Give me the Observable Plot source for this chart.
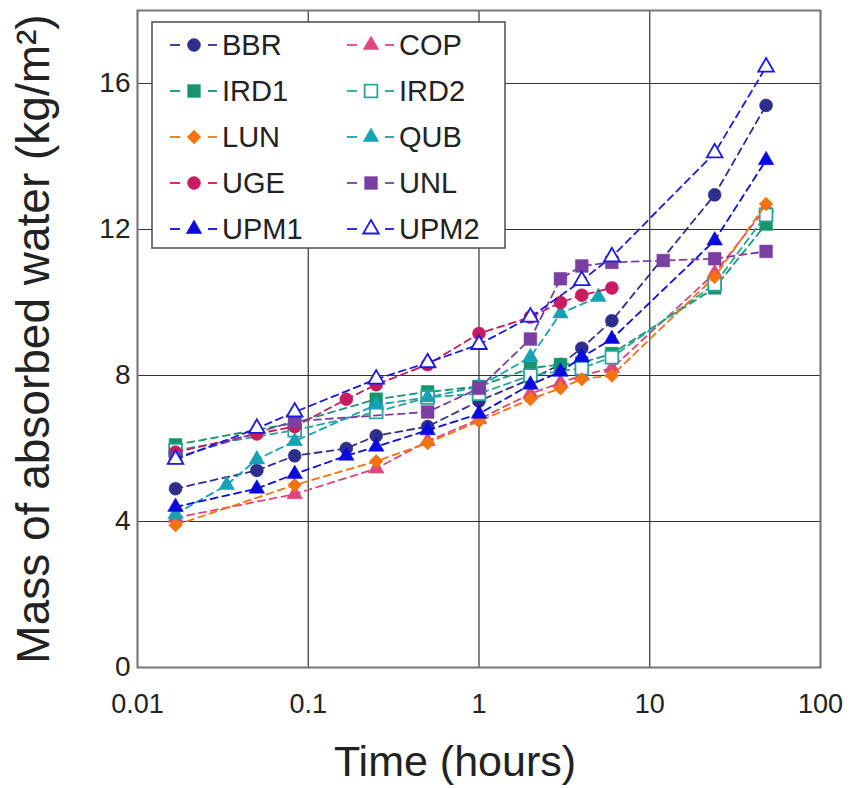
<!DOCTYPE html>
<html>
<head>
<meta charset="utf-8">
<script src="https://cdn.jsdelivr.net/npm/d3@7"></script>
<script src="https://cdn.jsdelivr.net/npm/@observablehq/plot@0.6"></script>
<style>
  body { margin: 0; background: #fff; }
  #wrap { position: relative; width: 850px; height: 788px; font-family: "Liberation Sans", Arial, sans-serif; }
  #legend { position: absolute; left: 0; top: 0; }
</style>
</head>
<body>
<div id="wrap"></div>
<script>
// ---- data (time in hours, mass in kg/m²) ----
const seriesNames = ["BBR", "COP", "IRD1", "IRD2", "LUN", "QUB", "UGE", "UNL", "UPM1", "UPM2"];
const seriesColors = ["#2E2E8C", "#E0457B", "#16956B", "#2AA39A", "#F5730F", "#17A2B4", "#C81A5E", "#7B3FA1", "#0A0AE0", "#1A1AE6"];
const seriesSymbols = ["circle", "triangle", "square", "square", "diamond2", "triangle", "circle", "square", "triangle", "triangle"];
const seriesOpen = [false, false, false, true, false, false, false, false, false, true];

const tBBR = [0.0167, 0.05, 0.0833, 0.167, 0.25, 0.5, 1, 2, 3, 4, 6, 24, 48];
const mBBR = [4.9, 5.4, 5.8, 6.0, 6.35, 6.6, 7.3, 7.9, 8.3, 8.75, 9.5, 12.95, 15.4];
const tCOP = [0.0167, 0.0833, 0.25, 0.5, 1, 2, 3, 4, 6, 24, 48];
const mCOP = [4.1, 4.75, 5.45, 6.2, 6.8, 7.5, 7.8, 8.0, 8.2, 10.8, 12.6];
const tIRD1 = [0.0167, 0.0833, 0.25, 0.5, 1, 2, 3, 4, 6, 24, 48];
const mIRD1 = [6.1, 6.7, 7.35, 7.55, 7.7, 8.2, 8.3, 8.35, 8.6, 10.4, 12.15];
const tIRD2 = [0.0167, 0.0833, 0.25, 0.5, 1, 2, 4, 6, 24, 48];
const mIRD2 = [5.95, 6.5, 7.0, 7.4, 7.5, 8.0, 8.2, 8.5, 10.5, 12.4];
const tLUN = [0.0167, 0.0833, 0.25, 0.5, 1, 2, 3, 4, 6, 24, 48];
const mLUN = [3.9, 5.0, 5.65, 6.15, 6.75, 7.35, 7.65, 7.9, 8.0, 10.7, 12.7];
const tQUB = [0.0167, 0.0333, 0.05, 0.0833, 0.25, 0.5, 1, 2, 3, 5];
const mQUB = [4.2, 5.0, 5.7, 6.2, 7.2, 7.4, 7.7, 8.5, 9.7, 10.15];
const tUGE = [0.0167, 0.05, 0.0833, 0.167, 0.25, 0.5, 1, 2, 3, 4, 6];
const mUGE = [5.9, 6.4, 6.6, 7.35, 7.75, 8.3, 9.15, 9.6, 10.0, 10.2, 10.4];
const tUNL = [0.0167, 0.0833, 0.5, 1, 2, 3, 4, 6, 12, 24, 48];
const mUNL = [5.75, 6.75, 7.0, 7.65, 9.0, 10.65, 11.0, 11.1, 11.15, 11.2, 11.4];
const tUPM1 = [0.0167, 0.05, 0.0833, 0.167, 0.25, 0.5, 1, 2, 3, 4, 6, 24, 48];
const mUPM1 = [4.4, 4.9, 5.3, 5.8, 6.05, 6.5, 6.95, 7.75, 8.1, 8.5, 9.0, 11.7, 13.9];
const tUPM2 = [0.0167, 0.05, 0.0833, 0.25, 0.5, 1, 2, 4, 6, 24, 48];
const mUPM2 = [5.7, 6.55, 7.0, 7.9, 8.35, 8.85, 9.6, 10.6, 11.25, 14.1, 16.45];

const seriesTimes = [tBBR, tCOP, tIRD1, tIRD2, tLUN, tQUB, tUGE, tUNL, tUPM1, tUPM2];
const seriesMass = [mBBR, mCOP, mIRD1, mIRD2, mLUN, mQUB, mUGE, mUNL, mUPM1, mUPM2];

const xTicks = [0.01, 0.1, 1, 10, 100];
const xTickLabels = ["0.01", "0.1", "1", "10", "100"];
const yTicks = [0, 4, 8, 12, 16];
const xTitle = "Time (hours)";
const yTitle = "Mass of absorbed water (kg/m²)";

const FONT = '"Liberation Sans", Arial, sans-serif';
// marker radii by symbol
const symR = {circle: 6.5, square: 7.2, triangle: 5.8, diamond2: 6.2};

const marks = [
  Plot.gridX(xTicks, {stroke: "#111", strokeOpacity: 0.85, strokeWidth: 1.2}),
  Plot.gridY(yTicks, {stroke: "#111", strokeOpacity: 0.85, strokeWidth: 1.2}),
  Plot.frame({stroke: "#777", strokeWidth: 2})
];

seriesNames.forEach((name, i) => {
  const data = seriesTimes[i].map((t, j) => ({t, m: seriesMass[i][j]}));
  marks.push(Plot.line(data, {x: "t", y: "m", stroke: seriesColors[i], strokeWidth: 1.8, strokeDasharray: "7,5"}));
  marks.push(Plot.dot(data, {
    x: "t", y: "m",
    symbol: seriesSymbols[i],
    r: symR[seriesSymbols[i]],
    fill: seriesOpen[i] ? "white" : seriesColors[i],
    stroke: seriesColors[i],
    strokeWidth: seriesOpen[i] ? 1.8 : 0.5
  }));
});

marks.push(
  Plot.axisX(xTicks, {tickSize: 0, tickPadding: 26, fontSize: 27, tickFormat: d => xTickLabels[xTicks.indexOf(d)], label: null, fill: "#222"}),
  Plot.axisY(yTicks, {tickSize: 0, tickPadding: 7, fontSize: 28, label: null, fill: "#222"}),
  Plot.text([xTitle], {text: d => d, frameAnchor: "bottom", dx: -24, dy: 108, lineAnchor: "bottom", fontSize: 43, fill: "#222"}),
  Plot.axisY([], {label: yTitle, labelArrow: "none", labelAnchor: "center", labelOffset: 121, fontSize: 46, fill: "#222", tickSize: 0})
);

const chart = Plot.plot({
  width: 850,
  height: 788,
  marginLeft: 137,
  marginRight: 30,
  marginTop: 10,
  marginBottom: 121,
  style: {fontFamily: FONT, background: "white", color: "#222"},
  x: {type: "log", domain: [0.01, 100]},
  y: {domain: [0, 18]},
  marks
});
document.getElementById("wrap").appendChild(chart);

// ---- legend overlay ----
const lg = d3.select("#wrap").append("svg").attr("id", "legend").attr("width", 850).attr("height", 300);
lg.append("rect").attr("x", 152).attr("y", 22).attr("width", 353).attr("height", 226)
  .attr("fill", "white").attr("stroke", "#555").attr("stroke-width", 1.6);
const symMap = {circle: d3.symbolCircle, square: d3.symbolSquare, triangle: d3.symbolTriangle, diamond2: d3.symbolDiamond2};
seriesNames.forEach((name, i) => {
  const col = i % 2, row = Math.floor(i / 2);
  const cx = col === 0 ? 194 : 371;
  const cy = 45 + row * 46;
  const g = lg.append("g");
  [[-24, -14], [14, 23]].forEach(([a, b]) => {
    g.append("line").attr("x1", cx + a).attr("x2", cx + b).attr("y1", cy).attr("y2", cy)
      .attr("stroke", seriesColors[i]).attr("stroke-width", 1.8);
  });
  const r = symR[seriesSymbols[i]];
  g.append("path").attr("transform", `translate(${cx},${cy})`)
    .attr("d", d3.symbol(symMap[seriesSymbols[i]], r * r * Math.PI)())
    .attr("fill", seriesOpen[i] ? "white" : seriesColors[i])
    .attr("stroke", seriesColors[i]).attr("stroke-width", seriesOpen[i] ? 1.8 : 0.5);
  g.append("text").attr("x", cx + 28).attr("y", cy).attr("dy", "0.36em")
    .attr("font-size", 29).attr("fill", "#222")
    .attr("font-family", FONT).text(name);
});
</script>
</body>
</html>
